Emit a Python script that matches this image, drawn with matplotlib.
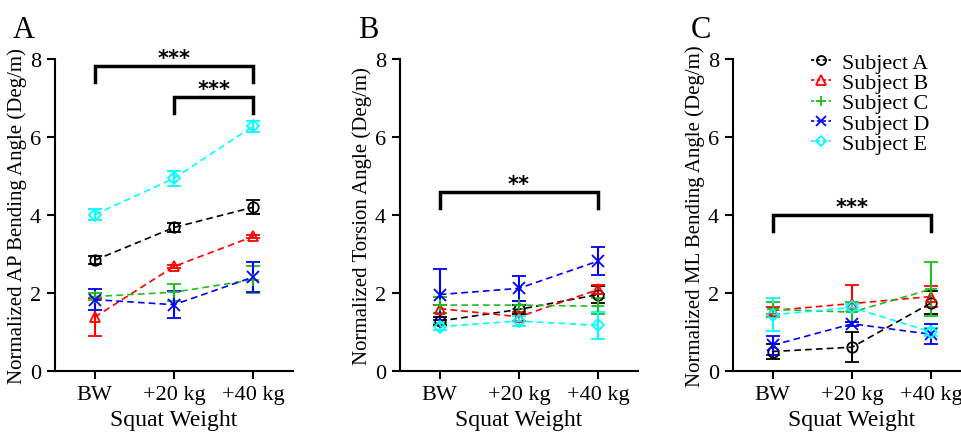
import matplotlib
matplotlib.use("Agg")
import matplotlib.pyplot as plt
from matplotlib.lines import Line2D
import numpy as np

categories = ["BW", "+20 kg", "+40 kg"]
subjects = ["Subject A", "Subject B", "Subject C", "Subject D", "Subject E"]
colors = ["black", "red", "#22bb22", "blue", "cyan"]
markers = ["o", "^", "+", "x", "D"]

# Panel A: AP bending
ap_mean = {
    "Subject A": [2.84, 3.68, 4.20],
    "Subject B": [1.38, 2.68, 3.45],
    "Subject C": [1.91, 2.02, 2.34],
    "Subject D": [1.83, 1.70, 2.41],
    "Subject E": [4.01, 4.94, 6.28],
}
ap_err = {
    "Subject A": [0.10, 0.12, 0.18],
    "Subject B": [0.48, 0.05, 0.05],
    "Subject C": [0.10, 0.22, 0.35],
    "Subject D": [0.27, 0.35, 0.38],
    "Subject E": [0.15, 0.20, 0.14],
}
# Panel B: torsion
tor_mean = {
    "Subject A": [1.28, 1.58, 1.96],
    "Subject B": [1.60, 1.39, 2.09],
    "Subject C": [1.69, 1.69, 1.66],
    "Subject D": [1.96, 2.12, 2.82],
    "Subject E": [1.14, 1.28, 1.17],
}
tor_err = {
    "Subject A": [0.10, 0.12, 0.22],
    "Subject B": [0.10, 0.12, 0.12],
    "Subject C": [0.20, 0.10, 0.20],
    "Subject D": [0.65, 0.32, 0.37],
    "Subject E": [0.10, 0.12, 0.35],
}
# Panel C: ML bending
ml_mean = {
    "Subject A": [0.50, 0.61, 1.75],
    "Subject B": [1.55, 1.73, 1.91],
    "Subject C": [1.58, 1.51, 2.10],
    "Subject D": [0.66, 1.21, 0.94],
    "Subject E": [1.44, 1.63, 1.00],
}
ml_err = {
    "Subject A": [0.20, 0.39, 0.30],
    "Subject B": [0.10, 0.47, 0.27],
    "Subject C": [0.20, 0.25, 0.70],
    "Subject D": [0.25, 0.05, 0.26],
    "Subject E": [0.42, 0.08, 0.10],
}

panels = [
    ("A", "Normalized AP Bending Angle (Deg/m)", ap_mean, ap_err,
     [(0, 2, 7.83, 7.42, "***"), (1, 2, 7.03, 6.62, "***")]),
    ("B", "Normalized Torsion Angle (Deg/m)", tor_mean, tor_err,
     [(0, 2, 4.60, 4.17, "**")]),
    ("C", "Normalized ML Bending Angle (Deg/m)", ml_mean, ml_err,
     [(0, 2, 4.00, 3.60, "***")]),
]

serif = "Liberation Serif"
fig = plt.figure(figsize=(9.61, 4.35), dpi=100)
lefts = [55, 400, 733]
W, H = 961, 435
for (letter, ylabel, means, errs, brackets), lp in zip(panels, lefts):
    ax = fig.add_axes([lp / W, (H - 372) / H, 238 / W, 312 / H])
    x = np.arange(len(categories))
    handles = []
    for s, c, m in zip(subjects, colors, markers):
        ms = 7.5 if m in ("o", "^") else (6.5 if m == "D" else 8)
        ax.errorbar(x, means[s], yerr=errs[s], color=c, marker=m,
                    markerfacecolor="none", markeredgecolor=c, markersize=ms,
                    markeredgewidth=1.3, linestyle=(0, (4, 2.5)), linewidth=1.2,
                    elinewidth=1.5, capsize=5, capthick=1.5)
        handles.append(Line2D([], [], color=c, marker=m, markerfacecolor="none",
                              markeredgecolor=c, markersize=ms - 1,
                              markeredgewidth=1.3, linestyle=(0, (2, 1.5)),
                              linewidth=1.2, label=s))
    for x0, x1, ytop, ybot, txt in brackets:
        ax.plot([x0, x0, x1, x1], [ybot, ytop, ytop, ybot], color="black",
                lw=2.5, solid_joinstyle="miter", clip_on=False)
        ax.text((x0 + x1) / 2, ytop - 0.05, txt, ha="center", va="bottom",
                fontsize=15, fontweight="bold", family="DejaVu Sans")
    ax.set_xlim(-0.5, 2.5)
    ax.set_ylim(0, 8)
    ax.set_yticks([0, 2, 4, 6, 8])
    ax.set_xticks(x)
    ax.set_xticklabels(categories)
    for sp in ["top", "right"]:
        ax.spines[sp].set_visible(False)
    for sp in ["left", "bottom"]:
        ax.spines[sp].set_linewidth(1.5)
    ax.tick_params(direction="out", length=6, width=1.5, labelsize=16, pad=4)
    for lab in ax.get_xticklabels() + ax.get_yticklabels():
        lab.set_family(serif)
    ax.set_ylabel(ylabel, family=serif, fontsize=15, labelpad=2)
    ax.set_xlabel("Squat Weight", family=serif, fontsize=17, labelpad=4)
    ax.text(-0.178, 1.07, letter, transform=ax.transAxes, family=serif,
            fontsize=22, ha="left", va="baseline")
    if letter == "C":
        ax.legend(handles=handles, loc="upper left", bbox_to_anchor=(0.29, 1.05),
                  frameon=False, prop={"family": serif, "size": 15.8},
                  handlelength=0.9, handletextpad=0.5, labelspacing=0.0,
                  borderaxespad=0)

fig.savefig("out.png", dpi=100)
